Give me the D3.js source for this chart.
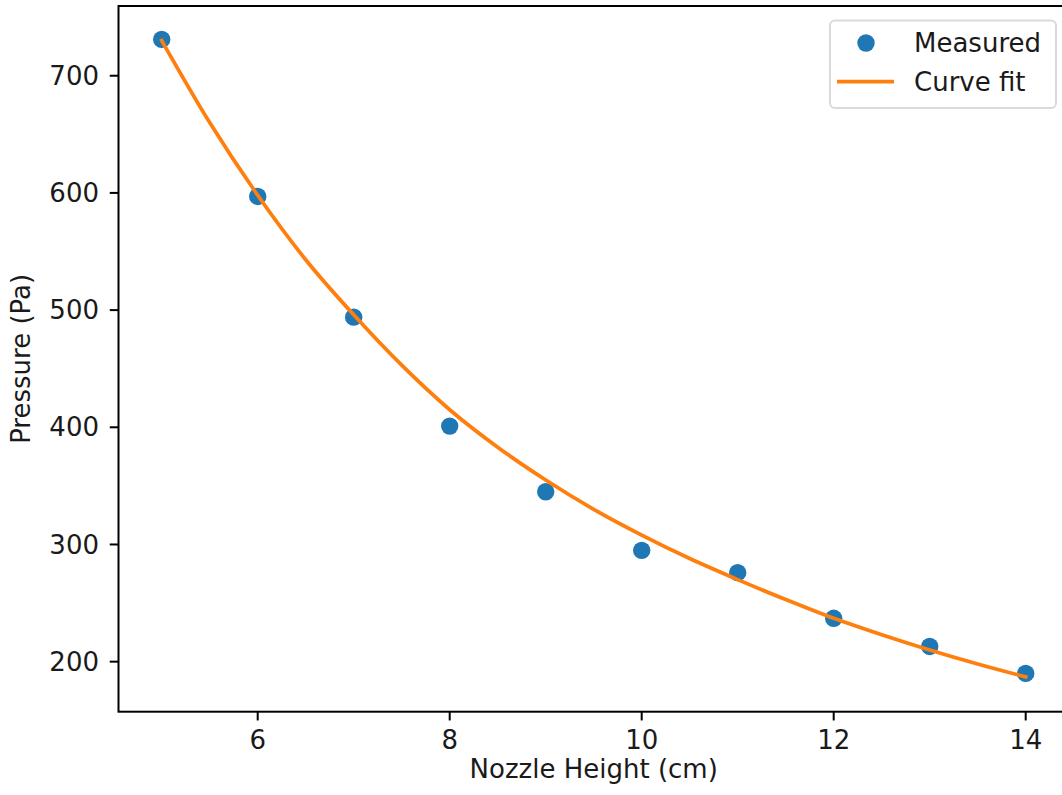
<!DOCTYPE html>
<html>
<head>
<meta charset="utf-8">
<script src="https://cdn.jsdelivr.net/npm/d3@7"></script>
<style>
	body { margin: 0; background: #fff; }
	svg { display: block; }
</style>
</head>
<body>
<div id="chart-container"></div>
<script>
// Measured points
var heights = [5, 6, 7, 8, 9, 10, 11, 12, 13, 14];
var measuredPressure = [731, 597, 494, 401, 345, 295, 276, 237, 213, 190];

// Curve fit
var fitHeights = [5, 5.5, 6, 6.5, 7, 7.5, 8, 8.5, 9, 9.5, 10, 10.5, 11, 11.5, 12, 12.5, 13, 13.5, 14];
var fitPressure = [730, 660, 598, 543, 496, 453, 415, 383, 355, 330, 308, 288, 270, 253, 237, 223, 210, 198, 187];

// Axes
var xTicks = [6, 8, 10, 12, 14];
var yTicks = [200, 300, 400, 500, 600, 700];
var xDomain = [4.55, 14.45];
var yDomain = [157.3, 759.5];

var legendLabels = ['Measured', 'Curve fit'];

function Chart() {
	var attrs = {
		svgWidth: 1062,
		svgHeight: 795,
		plotLeft: 118.5,
		plotRight: 1068.9,
		plotTop: 6,
		plotBottom: 711.7,
		fontSize: 26,
		font: '"DejaVu Sans", sans-serif',
		textFill: '#1a1a1a',
		pointColor: '#1f77b4',
		lineColor: '#ff7f0e',
		container: '#chart-container'
	};

	var main = function () {
		var container = d3.select(attrs.container);

		var svg = container.append('svg')
			.attr('width', attrs.svgWidth)
			.attr('height', attrs.svgHeight)
			.style('font-family', attrs.font);

		var x = d3.scaleLinear().domain(xDomain).range([attrs.plotLeft, attrs.plotRight]);
		var y = d3.scaleLinear().domain(yDomain).range([attrs.plotBottom, attrs.plotTop]);

		var tickLen = 8.75, tickPad = 8.75;

		// Curve fit line
		var line = d3.line()
			.x(function (d, i) { return x(fitHeights[i]); })
			.y(function (d) { return y(d); })
			.curve(d3.curveMonotoneX);

		// Measured points
		svg.append('g').selectAll('circle')
			.data(measuredPressure)
			.enter().append('circle')
			.attr('cx', function (d, i) { return x(heights[i]); })
			.attr('cy', function (d) { return y(d); })
			.attr('r', 8.7)
			.attr('fill', attrs.pointColor);

		svg.append('path')
			.attr('d', line(fitPressure))
			.attr('fill', 'none')
			.attr('stroke', attrs.lineColor)
			.attr('stroke-width', 3.75)
			.attr('stroke-linecap', 'square');

		// Frame (right spine falls outside the picture)
		svg.append('rect')
			.attr('x', attrs.plotLeft)
			.attr('y', attrs.plotTop)
			.attr('width', attrs.plotRight - attrs.plotLeft)
			.attr('height', attrs.plotBottom - attrs.plotTop)
			.attr('fill', 'none')
			.attr('stroke', '#000')
			.attr('stroke-width', 2);

		// X ticks
		var xt = svg.append('g').selectAll('g')
			.data(xTicks)
			.enter().append('g')
			.attr('transform', function (d) { return 'translate(' + x(d) + ',0)'; });
		xt.append('line')
			.attr('y1', attrs.plotBottom)
			.attr('y2', attrs.plotBottom + tickLen)
			.attr('stroke', '#000')
			.attr('stroke-width', 2);
		xt.append('text')
			.attr('y', attrs.plotBottom + tickLen + tickPad + 19.5)
			.attr('text-anchor', 'middle')
			.attr('font-size', attrs.fontSize)
			.attr('fill', attrs.textFill)
			.text(function (d) { return d; });

		// Y ticks
		var yt = svg.append('g').selectAll('g')
			.data(yTicks)
			.enter().append('g')
			.attr('transform', function (d) { return 'translate(0,' + y(d) + ')'; });
		yt.append('line')
			.attr('x1', attrs.plotLeft)
			.attr('x2', attrs.plotLeft - tickLen)
			.attr('stroke', '#000')
			.attr('stroke-width', 2);
		yt.append('text')
			.attr('x', attrs.plotLeft - tickLen - tickPad - 2)
			.attr('dy', '0.35em')
			.attr('text-anchor', 'end')
			.attr('font-size', attrs.fontSize)
			.attr('fill', attrs.textFill)
			.text(function (d) { return d; });

		// Axis labels
		svg.append('text')
			.attr('x', (attrs.plotLeft + attrs.plotRight) / 2)
			.attr('y', 778)
			.attr('text-anchor', 'middle')
			.attr('font-size', attrs.fontSize)
			.attr('fill', attrs.textFill)
			.text('Nozzle Height (cm)');

		svg.append('text')
			.attr('transform', 'translate(30,' + (attrs.plotTop + attrs.plotBottom) / 2 + ') rotate(-90)')
			.attr('text-anchor', 'middle')
			.attr('font-size', attrs.fontSize)
			.attr('fill', attrs.textFill)
			.text('Pressure (Pa)');

		// Legend
		var legend = svg.append('g').attr('transform', 'translate(830,20.5)');
		legend.append('rect')
			.attr('width', 226)
			.attr('height', 87.5)
			.attr('rx', 5)
			.attr('fill', '#fff')
			.attr('fill-opacity', 0.8)
			.attr('stroke', '#d9d9d9')
			.attr('stroke-width', 2);
		legend.append('circle')
			.attr('cx', 36)
			.attr('cy', 22.5)
			.attr('r', 8.7)
			.attr('fill', attrs.pointColor);
		legend.append('line')
			.attr('x1', 7)
			.attr('x2', 64)
			.attr('y1', 61)
			.attr('y2', 61)
			.attr('stroke', attrs.lineColor)
			.attr('stroke-width', 3.75);
		legend.selectAll('text.lbl')
			.data(legendLabels)
			.enter().append('text')
			.attr('class', 'lbl')
			.attr('x', 84)
			.attr('y', function (d, i) { return 22.5 + i * 38.5; })
			.attr('dy', '0.35em')
			.attr('font-size', attrs.fontSize)
			.attr('fill', attrs.textFill)
			.text(function (d) { return d; });
	};

	main.render = function () {
		main();
		return main;
	};

	return main;
}

Chart().render();
</script>
</body>
</html>
